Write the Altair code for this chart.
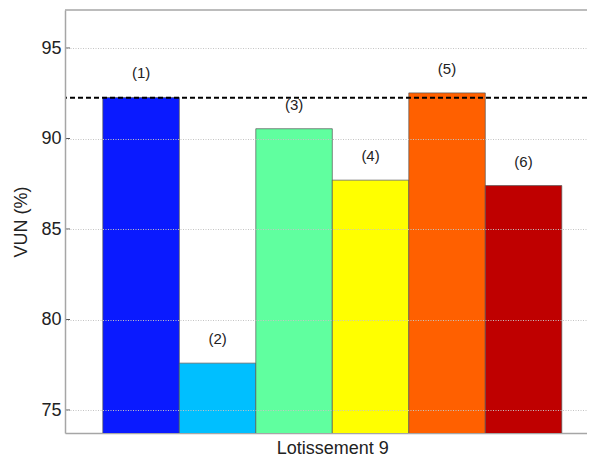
import altair as alt
import pandas as pd

categories = ["(1)", "(2)", "(3)", "(4)", "(5)", "(6)"]
values = [92.27, 77.59, 90.54, 87.70, 92.52, 87.40]
colors = ["#0A1AFF", "#00BFFF", "#60FF9F", "#FFFF00", "#FF6000", "#BF0000"]
y_ticks = [75, 80, 85, 90, 95]
reference = [92.25]
group_label = "Lotissement 9"
y_title = "VUN (%)"

W, H = 522, 423
FONT = "Liberation Sans"
FRAME = "#a6a6a6"

df = pd.DataFrame({"cat": categories, "val": values, "color": colors})
ticks_df = pd.DataFrame({"t": y_ticks})
ref_df = pd.DataFrame({"r": reference})

xscale = alt.Scale(domain=categories, paddingInner=0, paddingOuter=0.412, align=0.6)
yscale = alt.Scale(domain=[73.73, 97.1], nice=False, zero=False)

x_axis = alt.Axis(labels=False, ticks=False, domain=True, domainColor=FRAME,
                  domainWidth=1.5, title=group_label, titleX=267.3, titleY=15,
                  titleFontSize=18, titleFont=FONT, titleFontWeight="normal",
                  titleColor="#222", titleBaseline="middle", titleAlign="center")
y_axis = alt.Axis(values=y_ticks, grid=True, gridDash=[1, 1.5], gridColor="#c4c4c4",
                  gridWidth=1, ticks=False, domain=True, domainColor=FRAME,
                  domainWidth=1.5, labelFontSize=18, labelFont=FONT,
                  labelColor="#222", labelPadding=4, title=y_title,
                  titleFontSize=18, titleFont=FONT, titleFontWeight="normal",
                  titleColor="#222", titleX=-44, titleY=H / 2, titleAngle=270,
                  titleBaseline="middle", titleAlign="center", zindex=1)

bars = alt.Chart(df).mark_bar(stroke="#555", strokeWidth=1, strokeOpacity=0.7,
                              clip=True).encode(
    x=alt.X("cat:N", scale=xscale, sort=categories, axis=x_axis),
    y=alt.Y("val:Q", scale=yscale, axis=y_axis),
    color=alt.Color("color:N", scale=None),
)

labels = alt.Chart(df).mark_text(dy=-24, fontSize=15, font=FONT, color="#222",
                                 baseline="middle").encode(
    x=alt.X("cat:N", scale=xscale, sort=categories, axis=x_axis),
    y=alt.Y("val:Q", scale=yscale, axis=y_axis),
    text="cat:N",
)

ref_line = alt.Chart(ref_df).mark_rule(color="black", strokeWidth=2,
                                       strokeDash=[5, 3]).encode(
    y=alt.Y("r:Q", scale=yscale, axis=y_axis),
)

tick_marks = alt.Chart(ticks_df).mark_rule(color="#555", strokeWidth=1).encode(
    y=alt.Y("t:Q", scale=yscale, axis=y_axis),
    x=alt.value(0),
    x2=alt.value(5),
)

top_line = alt.Chart(ref_df).mark_rule(color=FRAME, strokeWidth=1.5).encode(
    y=alt.value(0),
)

chart = alt.layer(bars, labels, ref_line, top_line, tick_marks).properties(
    width=W, height=H,
    autosize=alt.AutoSizeParams(type="none"),
    padding={"left": 57, "top": 2, "right": 0, "bottom": 24},
).configure_view(stroke=None)

chart.save("out.html", embed_options={"renderer": "svg", "actions": False})
